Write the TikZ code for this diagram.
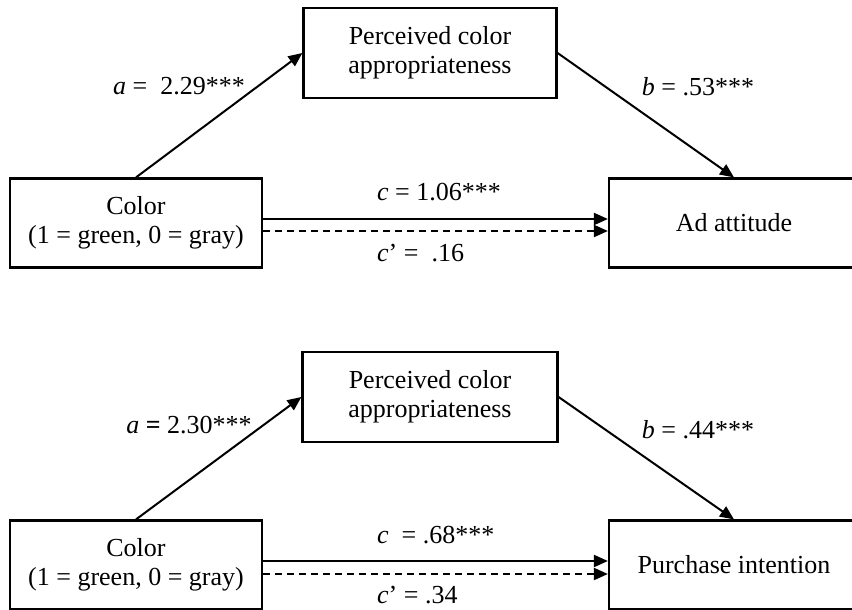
\documentclass[tikz,border=0pt]{standalone}
\usepackage{fontspec}
\setmainfont{Liberation Serif}
\usetikzlibrary{arrows.meta}

\begin{document}
\begin{tikzpicture}[x=1pt,y=-1pt,
	font=\fontsize{26}{29}\selectfont,
	box/.style={draw,line width=2.2pt,minimum width=252pt,minimum height=89pt,align=center,inner sep=0pt},
	eff/.style={-{Triangle[length=14pt,width=12pt]},line width=2pt},
	coef/.style={inner sep=0pt}]
	\useasboundingbox (0,0) rectangle (852,610);
	\clip (0,0) rectangle (852,610);

	% ad attitude model
	\node[box,minimum width=253pt,minimum height=90pt] (med1) at (430,53) {Perceived color\\appropriateness};
	\node[box] (col1) at (136,223) {Color\\(1 = green, 0 = gray)};
	\node[box,minimum width=250pt] (att) at (734,223) {Ad attitude};

	\draw [eff](col1.north) -- (med1.west);
	\draw [eff](med1.east) -- (att.north);
	\draw [eff]([yshift=4pt]col1.east) -- ([yshift=4pt]att.west);
	\draw [eff,dash pattern=on 7pt off 5pt]([yshift=-8pt]col1.east) -- ([yshift=-8pt]att.west);

	\node[coef] (a1) at (179,86) {\textit{a} = \ 2.29***};
	\node[coef] (b1) at (698,87) {\textit{b} = .53***};
	\node[coef,anchor=west] (c1) at (377,192) {\textit{c} = 1.06***};
	\node[coef,anchor=west] (cp1) at (377,253) {\textit{c}' = \ .16};

	% purchase intention model
	\node[box,minimum width=255pt,minimum height=90pt] (med2) at (430,397) {Perceived color\\appropriateness};
	\node[box] (col2) at (136,565) {Color\\(1 = green, 0 = gray)};
	\node[box,minimum width=250pt] (pur) at (734,565) {Purchase intention};

	\draw [eff](col2.north) -- (med2.west);
	\draw [eff](med2.east) -- (pur.north);
	\draw [eff]([yshift=4pt]col2.east) -- ([yshift=4pt]pur.west);
	\draw [eff,dash pattern=on 7pt off 5pt]([yshift=-9pt]col2.east) -- ([yshift=-9pt]pur.west);

	\node[coef] (a2) at (189,425) {\textit{a} \textbf{=} 2.30***};
	\node[coef] (b2) at (698,430) {\textit{b} = .44***};
	\node[coef,anchor=west] (c2) at (377,535) {\textit{c} \ = .68***};
	\node[coef,anchor=west] (cp2) at (377,595) {\textit{c}' = .34};
\end{tikzpicture}
\end{document}
